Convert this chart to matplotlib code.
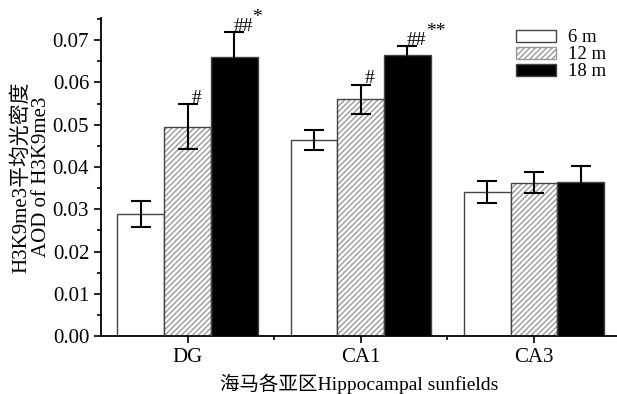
import numpy as np
import matplotlib
matplotlib.use('Agg')
import matplotlib.pyplot as plt
from matplotlib.patches import Patch

plt.rcParams['font.family'] = ['Liberation Serif', 'Noto Sans CJK SC']
plt.rcParams['axes.unicode_minus'] = False

# 数据
regions = ['DG', 'CA1', 'CA3']
groups = ['6 m', '12 m', '18 m']
m6 = [0.0288, 0.0463, 0.0340]
m12 = [0.0495, 0.0560, 0.0363]
m18 = [0.0661, 0.0665, 0.0364]
e6 = [0.0031, 0.0024, 0.0026]
e12 = [0.0053, 0.0035, 0.0025]
e18 = [0.0059, 0.0022, 0.0039]
marks12 = ['#', '#', '']
marks18 = ['##', '##', '']
stars18 = ['*', '**', '']

fig = plt.figure(figsize=(6.17, 3.94), dpi=100)
ax = fig.add_axes([0.1637, 0.147, 0.8363, 0.807])

x = np.arange(len(regions))
w = 0.27
ekw = dict(ecolor='black', elinewidth=1.5, capsize=7, capthick=1.5)

# 6 m 白色
ax.bar(x - w, m6, w, color='white', edgecolor='#444444', linewidth=1.0,
       yerr=e6, error_kw=ekw, zorder=2)
# 12 m 斜线
ax.bar(x, m12, w, color='white', edgecolor='#9a9a9a', hatch='//////', linewidth=0, zorder=2)
ax.bar(x, m12, w, color='none', edgecolor='#444444', linewidth=1.0,
       yerr=e12, error_kw=ekw, zorder=3)
# 18 m 黑色
ax.bar(x + w, m18, w, color='black', edgecolor='#444444', linewidth=1.0,
       yerr=e18, error_kw=ekw, zorder=2)

# 显著性标记
for i in range(len(regions)):
    if marks12[i]:
        ax.text(x[i] + 0.05, m12[i] + e12[i] + 0.0004, marks12[i], fontsize=14,
                ha='center', va='baseline')
    if marks18[i]:
        ax.text(x[i] + w + 0.05, m18[i] + e18[i] + 0.0001, marks18[i], fontsize=14,
                ha='center', va='baseline')
        ax.text(x[i] + w + 0.105, m18[i] + e18[i] + 0.0022,
                stars18[i], fontsize=14, ha='left', va='baseline')

# 图例
handles = [Patch(facecolor='white', edgecolor='#444444'),
           Patch(facecolor='white', edgecolor='#9a9a9a', hatch='//////'),
           Patch(facecolor='black', edgecolor='#444444')]
ax.legend(handles, groups, loc='upper right', bbox_to_anchor=(1.0, 1.0), frameon=False,
          fontsize=13.5, handlelength=2.15, handleheight=0.6, labelspacing=0.0,
          handletextpad=0.6, borderaxespad=0.2)

ax.set_xlim(-0.5, 2.48)
ax.set_ylim(0, 0.0752)
ax.set_xticks(x)
ax.set_xticklabels(regions)
ax.set_xticks([0.5, 1.5], minor=True)
ax.set_yticks(np.arange(0, 0.0701, 0.01))
ax.set_yticklabels(['%.2f' % v for v in np.arange(0, 0.0701, 0.01)])
ax.set_yticks(np.arange(0.005, 0.0751, 0.01), minor=True)
ax.tick_params(axis='both', which='major', direction='out', length=5, width=1.2, labelsize=15)
ax.tick_params(axis='both', which='minor', direction='out', length=3, width=1.2)
ax.spines['top'].set_visible(False)
ax.spines['right'].set_visible(False)
ax.spines['left'].set_linewidth(1.3)
ax.spines['bottom'].set_linewidth(1.3)

ax.set_xlabel('海马各亚区Hippocampal sunfields', fontsize=14, labelpad=5)
ax.set_ylabel('H3K9me3平均光密度\nAOD of H3K9me3', fontsize=15, labelpad=1, linespacing=1.1)

fig.savefig('out.png', dpi=100)
